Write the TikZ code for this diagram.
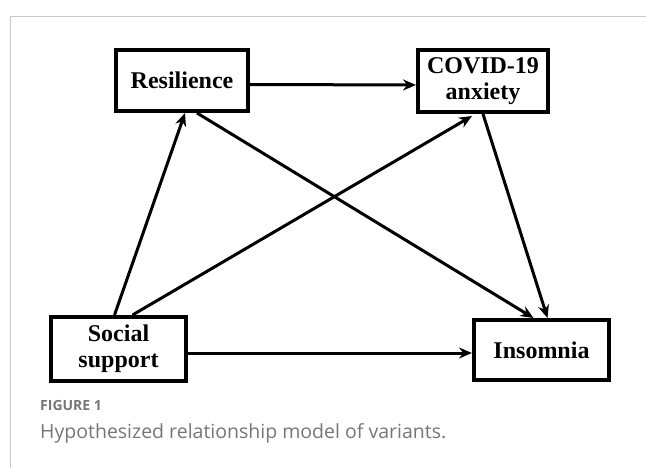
\documentclass[tikz,border=0pt]{standalone}
\usepackage{fontspec}
\setmainfont{Liberation Serif}
\newfontfamily\capfont{Open Sans}
\usetikzlibrary{arrows.meta, positioning, calc}
\definecolor{capgray}{RGB}{118,118,118}
\definecolor{framegray}{RGB}{200,200,200}

\begin{document}
\begin{tikzpicture}[
    x=1pt, y=-1pt,
    var/.style={rectangle, draw, line width=4pt, fill=white, align=center,
        font=\bfseries\fontsize{24}{26}\selectfont, inner sep=0pt},
    arrow/.style={-{Stealth[length=13pt, width=11pt]}, line width=3pt},
    frame/.style={draw=framegray, line width=1pt},
    caption/.style={anchor=base west, inner sep=0pt, text=capgray}
]
    \useasboundingbox (0,0) rectangle (646,468);

    % Panel frame
    \draw[frame] (10,468) -- (10,17) -- (646,17);

    % --- Variables ---
    \node[var, minimum width=132pt, minimum height=61pt] (res) at (182,80.5) {Resilience};
    \node[var, minimum width=130pt, minimum height=62pt] (cov) at (483,81) {COVID-19\\anxiety};
    \node[var, minimum width=135pt, minimum height=64pt] (soc) at (118.5,349) {Social\\support};
    \node[var, minimum width=135pt, minimum height=60pt] (ins) at (541.5,350) {Insomnia};

    % --- Paths ---
    \draw[arrow] ($(res.east)+(0,4)$) -- ($(cov.west)+(0,4)$);
    \draw[arrow] ($(soc.north)+(-4,0)$) -- ($(res.south)+(3,0)$);
    \draw[arrow] ($(soc.north)+(14,0)$) -- ($(cov.south)+(-11,2)$);
    \draw[arrow] ($(res.south)+(15,0)$) -- ($(ins.north)+(-8,0)$);
    \draw[arrow] ($(cov.south)+(0,0)$) -- ($(ins.north)+(6,0)$);
    \draw[arrow] ($(soc.east)+(0,4)$) -- ($(ins.west)+(0,3)$);

    % Caption
    \node[caption, font=\capfont\bfseries\fontsize{14}{16}\selectfont] (fig) at (40,410) {FIGURE 1};
    \node[caption, font=\capfont\fontsize{19.5}{22}\selectfont] (cap) at (40,438) {Hypothesized relationship model of variants.};
\end{tikzpicture}
\end{document}
